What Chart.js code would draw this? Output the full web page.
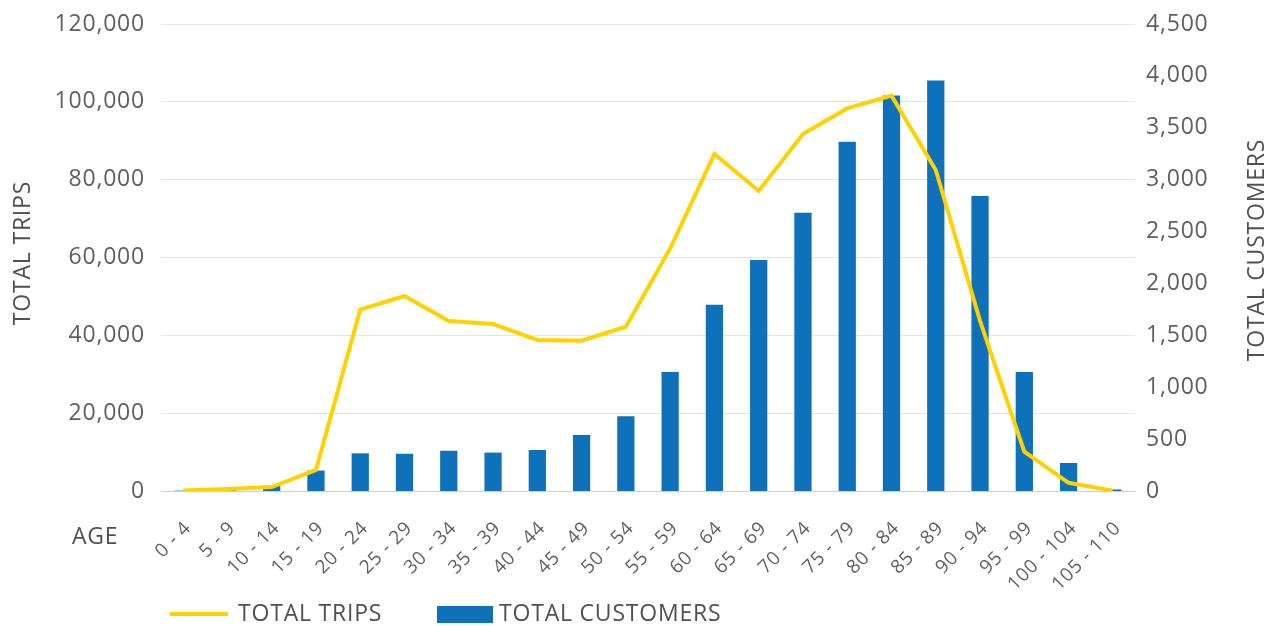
<!DOCTYPE html>
<html>
<head>
<meta charset="utf-8">
<script src="https://cdn.jsdelivr.net/npm/chart.js@4.4.1/dist/chart.umd.min.js"></script>
<style>
  html, body { margin: 0; padding: 0; background: #fff; }
  #wrap { width: 1277px; height: 626px; position: relative; }
</style>
</head>
<body>
<div id="wrap"><canvas id="c" width="1277" height="626"></canvas></div>
<script>
const ageGroups = ['0 - 4','5 - 9','10 - 14','15 - 19','20 - 24','25 - 29','30 - 34','35 - 39','40 - 44','45 - 49','50 - 54','55 - 59','60 - 64','65 - 69','70 - 74','75 - 79','80 - 84','85 - 89','90 - 94','95 - 99','100 - 104','105 - 110'];
const totalTrips = [100, 500, 1000, 5400, 46600, 50100, 43700, 42900, 38800, 38600, 42200, 62300, 86600, 77100, 91700, 98300, 101600, 82500, 43700, 10100, 2100, 100];
const totalCustomers = [4, 12, 50, 197, 363, 359, 388, 370, 395, 540, 720, 1146, 1795, 2225, 2681, 3365, 3810, 3955, 2842, 1146, 270, 15];
const tripTicks = { min: 0, max: 120000, step: 20000 };
const customerTicks = { min: 0, max: 4500, step: 500 };

const FONT = '"Open Sans", "DejaVu Sans", sans-serif';
const YELLOW = '#FFD100';
const BLUE = '#0F71BA';
const TEXT = '#505050';
const TICK = '#5f5f5f';
const SPACING = '0.8px';

const spacingPlugin = {
  id: 'spacing',
  beforeUpdate(chart) { chart.ctx.letterSpacing = SPACING; },
  beforeLayout(chart) { chart.ctx.letterSpacing = SPACING; },
  beforeDraw(chart) { chart.ctx.letterSpacing = SPACING; }
};

const extraText = {
  id: 'extraText',
  afterDraw(chart) {
    const ctx = chart.ctx;
    ctx.save();
    ctx.letterSpacing = SPACING;
    ctx.fillStyle = TEXT;
    ctx.font = '23px ' + FONT;
    ctx.textBaseline = 'middle';
    // left axis title
    ctx.save();
    ctx.translate(23, 253);
    ctx.rotate(-Math.PI / 2);
    ctx.textAlign = 'center';
    ctx.fillText('TOTAL TRIPS', 0, 0);
    ctx.restore();
    // right axis title
    ctx.save();
    ctx.translate(1257, 250);
    ctx.rotate(-Math.PI / 2);
    ctx.textAlign = 'center';
    ctx.fillText('TOTAL CUSTOMERS', 0, 0);
    ctx.restore();
    // x axis title
    ctx.textAlign = 'left';
    ctx.fillText('AGE', 72, 537);
    // legend
    const ly = 614;
    ctx.strokeStyle = YELLOW;
    ctx.lineWidth = 4;
    ctx.beginPath();
    ctx.moveTo(170, ly);
    ctx.lineTo(228, ly);
    ctx.stroke();
    ctx.fillText(chart.data.datasets[0].label, 238, ly);
    ctx.fillStyle = BLUE;
    ctx.fillRect(437, 606, 56, 17);
    ctx.fillStyle = TEXT;
    ctx.fillText(chart.data.datasets[1].label, 499, ly);
    ctx.restore();
  }
};

new Chart(document.getElementById('c'), {
  type: 'bar',
  data: {
    labels: ageGroups,
    datasets: [
      {
        type: 'line',
        label: 'TOTAL TRIPS',
        data: totalTrips,
        yAxisID: 'y',
        borderColor: YELLOW,
        backgroundColor: YELLOW,
        borderWidth: 4,
        pointRadius: 0,
        tension: 0,
        order: 0
      },
      {
        type: 'bar',
        label: 'TOTAL CUSTOMERS',
        data: totalCustomers,
        yAxisID: 'y1',
        backgroundColor: BLUE,
        borderWidth: 0,
        barPercentage: 0.39,
        categoryPercentage: 1.0,
        order: 1
      }
    ]
  },
  options: {
    responsive: false,
    animation: false,
    events: [],
    layout: { padding: { top: 24, left: 0, right: 0, bottom: 0 } },
    plugins: { legend: { display: false }, tooltip: { enabled: false } },
    scales: {
      x: {
        offset: true,
        grid: { display: false, drawTicks: false },
        border: { display: true, color: '#cfcfcf', width: 1 },
        ticks: {
          color: TICK,
          font: { family: FONT, size: 19 },
          maxRotation: 45,
          minRotation: 45,
          autoSkip: false,
          padding: 26,
          labelOffset: 5
        },
        afterFit(s) { s.height = 135; s.paddingLeft = 0; s.paddingRight = 0; }
      },
      y: {
        position: 'left',
        min: tripTicks.min,
        max: tripTicks.max,
        grid: { color: '#e4e4e4', drawTicks: false },
        border: { display: false },
        ticks: {
          stepSize: tripTicks.step,
          color: TICK,
          font: { family: FONT, size: 23 },
          padding: 16,
          callback: v => v.toLocaleString('en-US')
        },
        afterFit(s) { s.width = 161; s.paddingTop = 0; s.paddingBottom = 0; }
      },
      y1: {
        position: 'right',
        min: customerTicks.min,
        max: customerTicks.max,
        grid: { display: false, drawTicks: false },
        border: { display: false },
        ticks: {
          stepSize: customerTicks.step,
          color: TICK,
          font: { family: FONT, size: 23 },
          padding: 11,
          callback: v => v.toLocaleString('en-US')
        },
        afterFit(s) { s.width = 142; s.paddingTop = 0; s.paddingBottom = 0; }
      }
    }
  },
  plugins: [spacingPlugin, extraText]
});
</script>
</body>
</html>
